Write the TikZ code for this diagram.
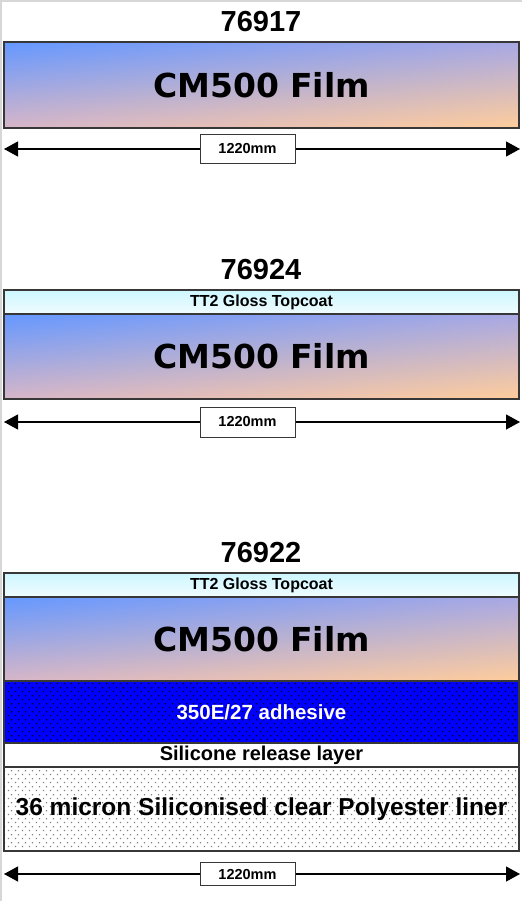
\documentclass[tikz,border=0pt]{standalone}
\usepackage{fontspec}
\setmainfont{Liberation Sans}
\newfontfamily\filmfont{DejaVu Sans}
\usetikzlibrary{positioning,arrows.meta,patterns,shadings}

\definecolor{filmblue}{RGB}{100,152,255}
\definecolor{filmlilac}{RGB}{168,168,228}
\definecolor{filmpink}{RGB}{215,182,200}
\definecolor{filmorange}{RGB}{255,205,155}
\definecolor{coatcyan}{RGB}{205,246,255}
\definecolor{framegray}{RGB}{215,215,215}
\definecolor{edgegray}{RGB}{55,55,55}
\definecolor{adhblue}{RGB}{0,0,255}

\pgfdeclarepatternformonly{layerdots}{\pgfpointorigin}{\pgfpoint{7bp}{7.6bp}}{\pgfpoint{7bp}{7.6bp}}{%
  \pgfpathrectangle{\pgfpoint{1bp}{1bp}}{\pgfpoint{1.3bp}{1.3bp}}%
  \pgfpathrectangle{\pgfpoint{4.5bp}{4.8bp}}{\pgfpoint{1.3bp}{1.3bp}}%
  \pgfusepath{fill}}

\begin{document}
\begin{tikzpicture}[x=1bp,y=-1bp,
    layer/.style={draw=edgegray, line width=1.2bp, minimum width=515bp, inner sep=0pt, outer sep=0pt},
    film/.style={layer, minimum height=#1, shade, upper left=filmblue, upper right=filmlilac,
      lower left=filmpink, lower right=filmorange, font=\filmfont\bfseries\fontsize{33bp}{33bp}\selectfont},
    coat/.style={layer, minimum height=24bp, top color=coatcyan, bottom color=coatcyan!30,
      font=\bfseries\fontsize{16bp}{16bp}\selectfont},
    title/.style={inner sep=0pt, font=\bfseries\fontsize{29bp}{29bp}\selectfont},
    widthbox/.style={draw=edgegray, fill=white, line width=1bp, minimum width=95bp, minimum height=#1,
      inner sep=0pt, font=\bfseries\fontsize{14.5bp}{14.5bp}\selectfont},
    dimline/.style={line width=1.2bp, -{Triangle[length=14bp,width=15bp]}}]
  \useasboundingbox (0,0) rectangle (522,901);
  \fill[white] (0,0) rectangle (522,901);
  \draw[framegray, line width=1.5bp] (1,901) -- (1,1) -- (522,1);

  % 76917
  \node[title] (t1) at (261,22) {76917};
  \node[film=86bp] (f1) at (261.5,85) {CM500 Film};
  \node[widthbox=29bp] (w1) at (247.5,149) {1220mm};
  \coordinate (l1) at (4,149);
  \coordinate (r1) at (520,149);
  \draw[dimline] (w1) -- (l1);
  \draw[dimline] (w1) -- (r1);

  % 76924
  \node[title] (t2) at (261,270) {76924};
  \node[coat] (c2) at (261.5,302) {TT2 Gloss Topcoat};
  \node[film=85bp, below=0pt of c2] (f2) {CM500 Film};
  \node[widthbox=30bp] (w2) at (247.5,422) {1220mm};
  \coordinate (l2) at (4,422);
  \coordinate (r2) at (520,422);
  \draw[dimline] (w2) -- (l2);
  \draw[dimline] (w2) -- (r2);

  % 76922
  \node[title] (t3) at (261,553) {76922};
  \node[coat] (c3) at (261.5,585) {TT2 Gloss Topcoat};
  \node[film=84bp, below=0pt of c3] (f3) {CM500 Film};
  \node[layer, minimum height=62bp, below=0pt of f3, preaction={fill=adhblue}, pattern=layerdots,
    pattern color=black, text=white, font=\bfseries\fontsize{20.5bp}{20.5bp}\selectfont] (a3) {350E/27 adhesive};
  \node[layer, minimum height=24bp, below=0pt of a3, fill=white,
    font=\bfseries\fontsize{20bp}{20bp}\selectfont] (s3) {Silicone release layer};
  \node[layer, minimum height=84bp, below=0pt of s3, preaction={fill=white}, pattern=layerdots,
    pattern color=black!50, font=\bfseries\fontsize{24.5bp}{24.5bp}\selectfont] (p3) {36 micron Siliconised clear Polyester liner};
  \node[widthbox=23bp] (w3) at (247.5,874) {1220mm};
  \coordinate (l3) at (4,874);
  \coordinate (r3) at (520,874);
  \draw[dimline] (w3) -- (l3);
  \draw[dimline] (w3) -- (r3);
\end{tikzpicture}
\end{document}
